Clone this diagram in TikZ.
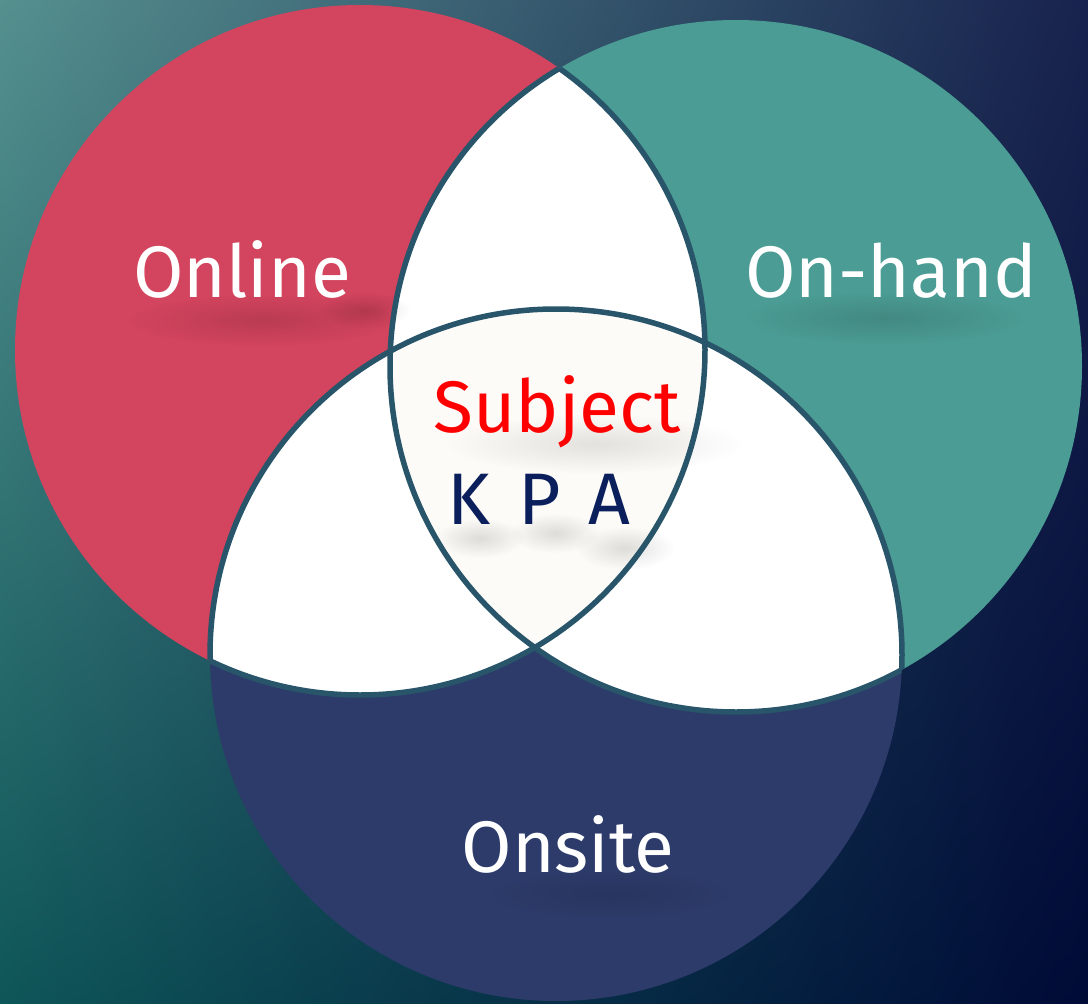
\documentclass[tikz,border=0pt]{standalone}
\usepackage{fontspec}
\newfontfamily\lab{Fira Sans}
\usetikzlibrary{fadings,shadings}
\definecolor{bgUL}{HTML}{55908F}
\definecolor{bgUR}{HTML}{18224E}
\definecolor{bgLL}{HTML}{0E5658}
\definecolor{bgLR}{HTML}{000A36}
\definecolor{cred}{HTML}{D3445E}
\definecolor{cteal}{HTML}{4B9C94}
\definecolor{cnavy}{HTML}{2D3B6A}
\definecolor{ccenter}{HTML}{FCFBF8}
\definecolor{cstroke}{HTML}{28556A}
\definecolor{ckpa}{HTML}{0A1F5C}
\tikzfading[name=softfade, inner color=transparent!0, outer color=transparent!100]
\tikzset{
  label/.style={font=\lab\fontsize{73}{80}\selectfont, anchor=base, inner sep=0pt},
  ring/.style={draw=cstroke, line width=5.5pt},
  shadowblob/.style={fill=black, path fading=softfade},
}
\begin{document}
\begin{tikzpicture}[x=1pt,y=-1pt]
\useasboundingbox (0,0) rectangle (1088,1004);
\shade[upper left=bgUL, upper right=bgUR, lower left=bgLL, lower right=bgLR] (0,0) rectangle (1088,1004);
\coordinate (R) at (360,350);
\coordinate (T) at (736,366);
\coordinate (N) at (556,655);
\def\rr{345}\def\rt{346}\def\rn{346}
% coloured discs
\fill[cred] (R) circle (\rr);
\fill[cteal] (T) circle (\rt);
\fill[cnavy] (N) circle (\rn);
% white pairwise overlaps
\begin{scope}
  \clip (R) circle (\rr);
  \fill[white] (T) circle (\rt);
  \fill[white] (N) circle (\rn);
\end{scope}
\begin{scope}
  \clip (T) circle (\rt);
  \fill[white] (N) circle (\rn);
\end{scope}
% centre
\begin{scope}
  \clip (R) circle (\rr);
  \clip (T) circle (\rt);
  \fill[ccenter] (N) circle (\rn);
\end{scope}
% soft shadows under the labels
\fill[shadowblob, opacity=0.12] (262,320) ellipse (135 and 26);
\fill[shadowblob, opacity=0.14] (365,310) ellipse (45 and 18);
\fill[shadowblob, opacity=0.12] (885,318) ellipse (140 and 26);
\fill[shadowblob, opacity=0.10] (595,444) ellipse (150 and 30);
\fill[shadowblob, opacity=0.12] (480,538) ellipse (45 and 20);
\fill[shadowblob, opacity=0.12] (555,533) ellipse (45 and 20);
\fill[shadowblob, opacity=0.12] (625,548) ellipse (50 and 22);
\fill[shadowblob, opacity=0.10] (610,894) ellipse (120 and 24);
% outlines of the overlap regions
\begin{scope}
  \clip (T) circle (\rt) (N) circle (\rn);
  \draw[ring] (R) circle (\rr);
\end{scope}
\begin{scope}
  \clip (R) circle (\rr) (N) circle (\rn);
  \draw[ring] (T) circle (\rt);
\end{scope}
\begin{scope}
  \clip (R) circle (\rr) (T) circle (\rt);
  \draw[ring] (N) circle (\rn);
\end{scope}
% labels
\node[label, text=white] (online) at (242,297) {Online};
\node[label, text=white] (onhand) at (891,297) {On-hand};
\node[label, text=red] (subject) at (557,432) {Subject};
\node[label, text=ckpa] (kpa) at (539,524) {K\hspace{0.38em}P\hspace{0.38em}A};
\node[label, text=white] (onsite) at (568,872) {Onsite};
\end{tikzpicture}
\end{document}
